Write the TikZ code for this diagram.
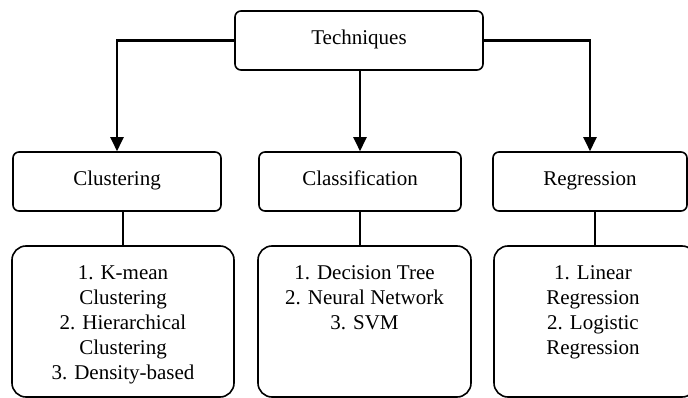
\documentclass[tikz,border=0pt]{standalone}
\usepackage{fontspec}
\setmainfont{Liberation Serif}
\usetikzlibrary{arrows.meta}
\begin{document}
\begin{tikzpicture}[x=1pt, y=-1pt,
        box/.style={draw, line width=1.6pt, rounded corners=6pt, inner sep=0pt, text height=14pt, text depth=5pt, font=\fontsize{21}{25}\selectfont},
        listbox/.style={draw, line width=1.6pt, rounded corners=14pt, inner sep=0pt},
        txt/.style={inner sep=0pt, align=center, anchor=north, font=\fontsize{21}{25}\selectfont},
        arr/.style={line width=2.4pt, -{Triangle[length=14pt, width=13pt]}},
        link/.style={line width=1.5pt}]
        \useasboundingbox (0,0) rectangle (688,398);
        % top box
        \node[box, minimum width=248pt, minimum height=59pt] (tech) at (359, 40.5) {Techniques};
        % second row
        \node[box, minimum width=208pt, minimum height=59pt] (clu) at (117, 181.5) {Clustering};
        \node[box, minimum width=202pt, minimum height=59pt] (cla) at (360, 181.5) {Classification};
        \node[box, minimum width=194pt, minimum height=59pt] (reg) at (590, 181.5) {Regression};
        \draw[arr] (tech.west) -| (clu.north);
        \draw[arr] (tech.south -| cla.north) -- (cla.north);
        \draw[arr] (tech.east) -| (reg.north);
        % third row
        \node[listbox, minimum width=222pt, minimum height=151pt] (clulist) at (123, 321.5) {};
        \node[listbox, minimum width=213pt, minimum height=151pt] (clalist) at (364.5, 321.5) {};
        \node[listbox, minimum width=202pt, minimum height=151pt] (reglist) at (595, 321.5) {};
        \node[txt] (clutext) at ([yshift=-20pt]clulist.north) {1. K-mean\\Clustering\\2. Hierarchical\\Clustering\\3. Density-based};
        \node[txt] (clatext) at ([yshift=-20pt]clalist.north) {1. Decision Tree\\2. Neural Network\\3. SVM};
        \node[txt] (regtext) at ([yshift=-20pt, xshift=-2pt]reglist.north) {1. Linear\\Regression\\2. Logistic\\Regression};
        \draw[link] (clu.south -| clulist.north) -- (clulist.north);
        \draw[link] (cla.south) -- (cla.south |- clalist.north);
        \draw[link] (reg.south -| reglist.north) -- (reglist.north);
\end{tikzpicture}
\end{document}
